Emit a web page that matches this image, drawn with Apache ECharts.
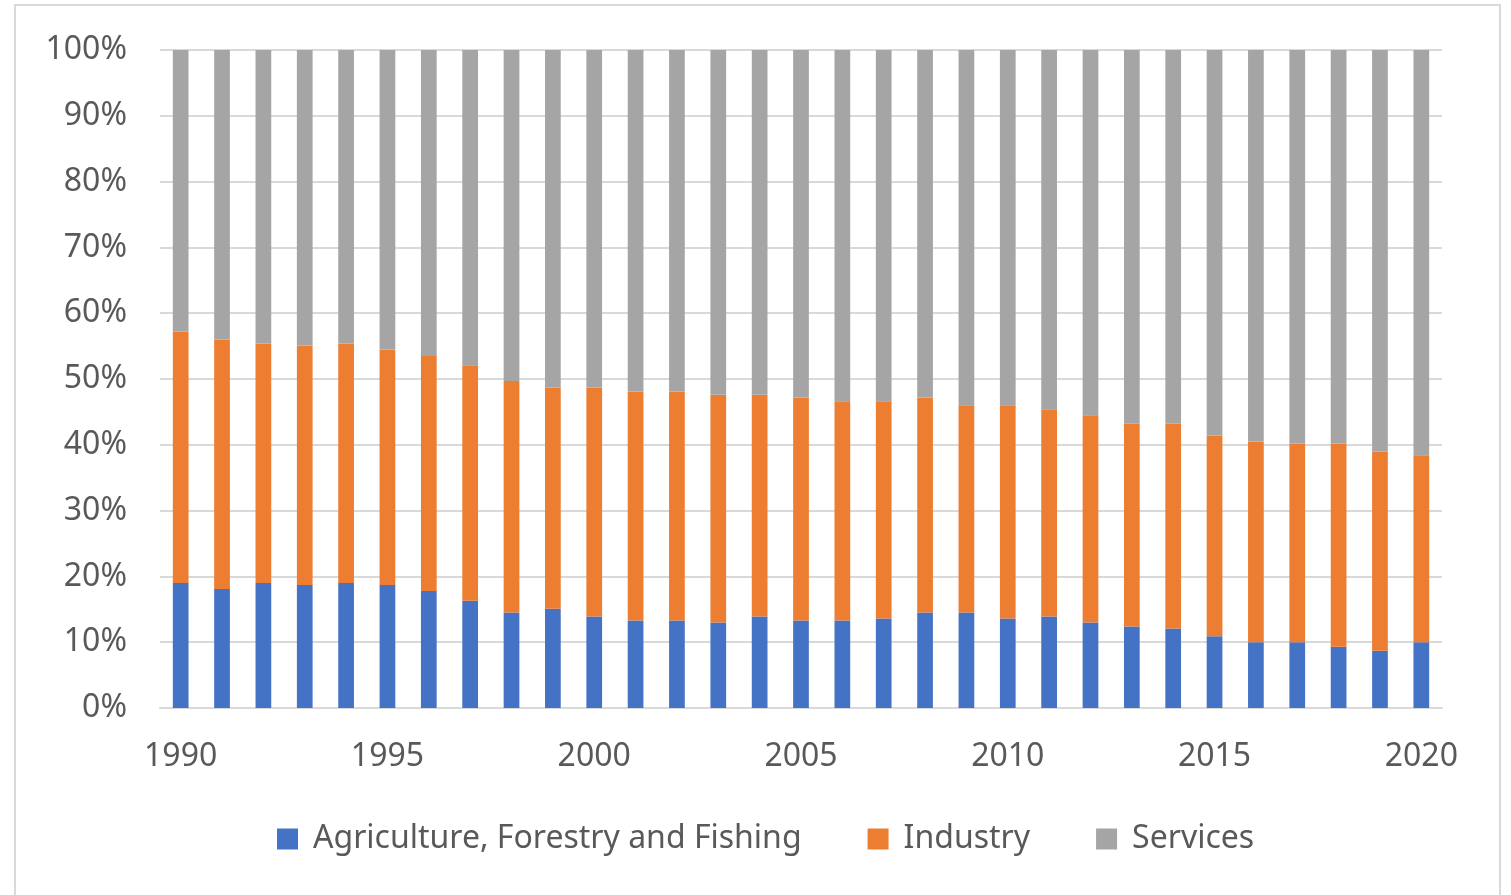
<!DOCTYPE html>
<html>
<head>
<meta charset="utf-8">
<script src="https://cdn.jsdelivr.net/npm/echarts@6/dist/echarts.min.js"></script>
<style>
html,body{margin:0;padding:0;background:#fff;}
#main{width:1511px;height:895px;}
</style>
</head>
<body>
<div id="main"></div>
<script>
const years = ['1990','1991','1992','1993','1994','1995','1996','1997','1998','1999','2000','2001','2002','2003','2004','2005','2006','2007','2008','2009','2010','2011','2012','2013','2014','2015','2016','2017','2018','2019','2020'];
const agriculture = [19.0,18.1,19.0,18.7,19.0,18.7,17.8,16.3,14.5,15.1,13.9,13.3,13.3,13.0,13.9,13.3,13.3,13.6,14.5,14.5,13.6,13.9,13.0,12.4,12.1,10.9,10.0,10.0,9.3,8.7,10.0];
const industry = [38.2,37.9,36.4,36.4,36.4,35.8,35.7,35.8,35.2,33.6,34.8,34.8,34.8,34.6,33.7,33.9,33.3,33.0,32.7,31.5,32.4,31.5,31.5,30.8,31.1,30.5,30.5,30.2,30.9,30.3,28.4];
const services = [42.8,44.0,44.6,44.9,44.6,45.5,46.5,47.9,50.3,51.3,51.3,51.9,51.9,52.4,52.4,52.8,53.4,53.4,52.8,54.0,54.0,54.6,55.5,56.8,56.8,58.6,59.5,59.8,59.8,61.0,61.6];
const seriesNames = ['Agriculture, Forestry and Fishing','Industry','Services'];
const yTicks = [0,10,20,30,40,50,60,70,80,90,100];

const chart = echarts.init(document.getElementById('main'), null, {renderer:'canvas'});
const font = 'Noto Sans';
const colors = ['#4472C4','#ED7D31','#A5A5A5'];
const data = [agriculture, industry, services];

chart.setOption({
  animation:false,
  backgroundColor:'#fff',
  graphic:[{type:'rect', shape:{x:15,y:5,width:1485,height:900}, style:{fill:'none', stroke:'#d9d9d9', lineWidth:2}, silent:true, z:-1}],
  color: colors,
  grid:{left:160, right:69, top:50, bottom:187, containLabel:false},
  legend:{
    bottom:35, left:272,
    itemWidth:21, itemHeight:21, itemGap:66,
    icon:'rect',
    textStyle:{fontFamily:font, fontSize:32, color:'#595959', padding:[0,0,0,10]},
    data: seriesNames
  },
  xAxis:{
    type:'category', data:years,
    axisTick:{show:false},
    axisLine:{lineStyle:{color:'#d9d9d9', width:2}},
    axisLabel:{interval:4, margin:33, fontFamily:font, fontSize:32, color:'#595959'}
  },
  yAxis:{
    type:'value', min:yTicks[0], max:yTicks[yTicks.length-1], interval:10,
    axisLine:{show:false}, axisTick:{show:false},
    splitLine:{lineStyle:{color:'#d9d9d9', width:2}},
    axisLabel:{margin:33, fontFamily:font, fontSize:32, color:'#595959', formatter:'{value}%'}
  },
  series: seriesNames.map((n,i)=>({
    name:n, type:'bar', stack:'total', barWidth:'38%', data:data[i],
    itemStyle:{color:colors[i]}
  }))
});
</script>
</body>
</html>
